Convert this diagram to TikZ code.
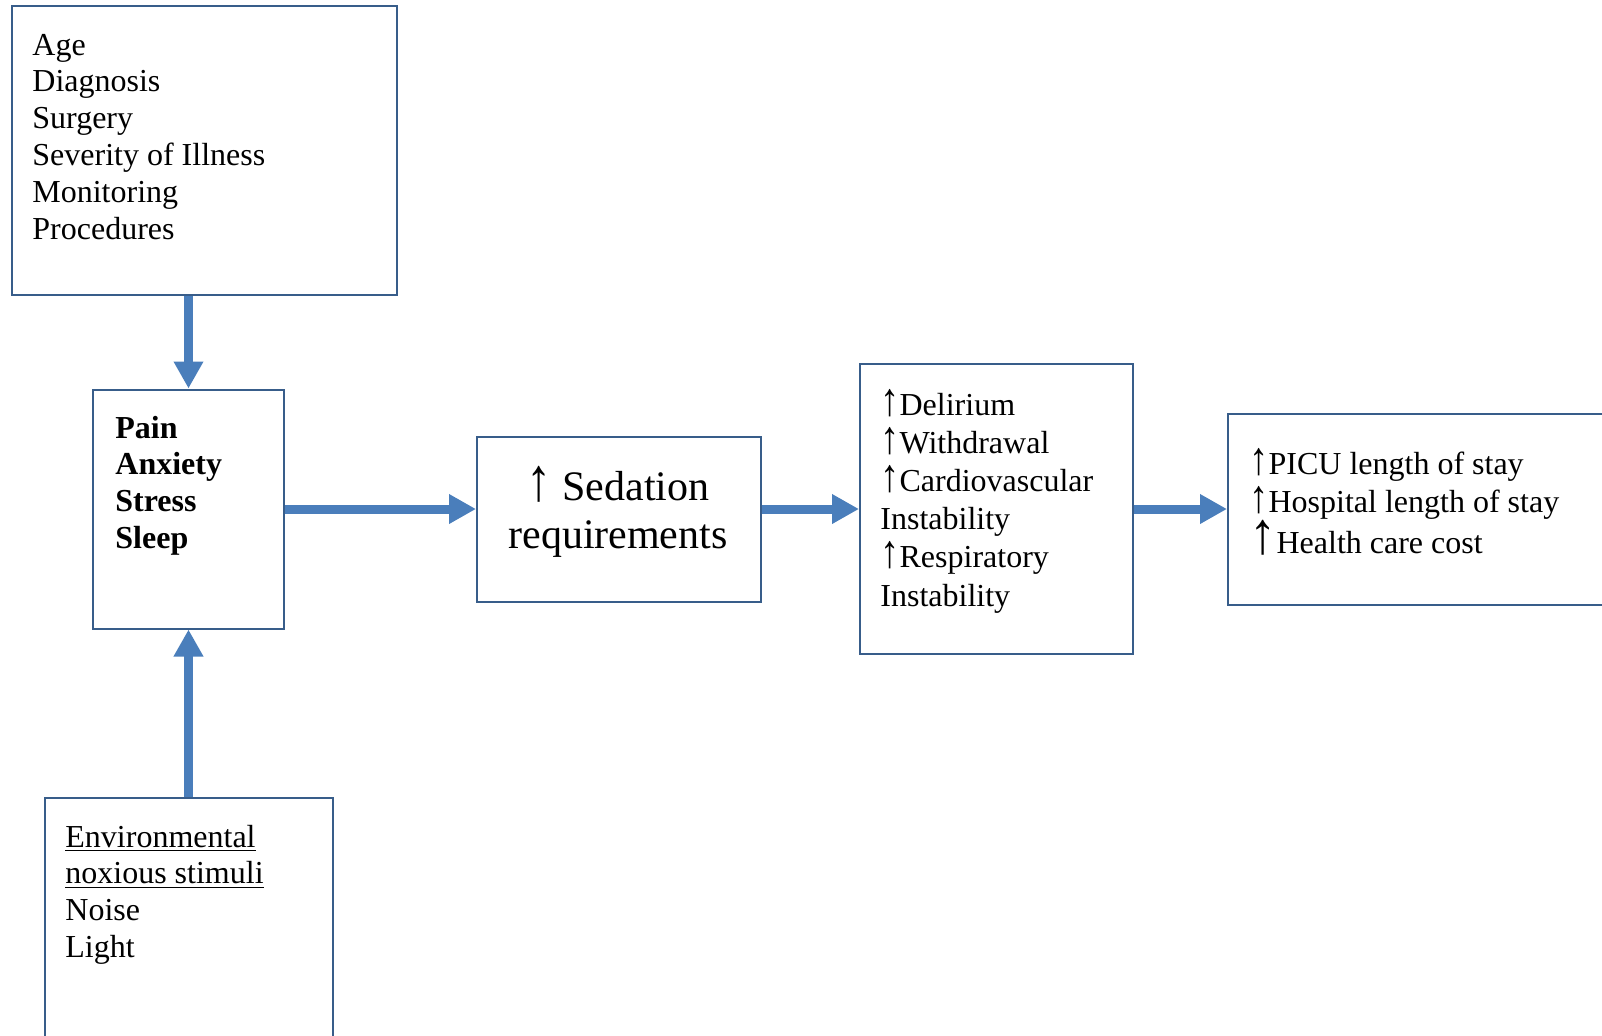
\documentclass[tikz,border=0pt]{standalone}
\usepackage{fontspec}
\usepackage{graphicx}
\setmainfont{Liberation Serif}
\usetikzlibrary{arrows.meta}
\definecolor{boxblue}{RGB}{56,93,138}
\definecolor{arrowblue}{RGB}{74,126,187}
\newcommand{\incr}{\smash{\scalebox{1.2}[1.45]{↑}}}
\newcommand{\bigincr}{\smash{\scalebox{1.7}[1.85]{\bfseries ↑}}}

\begin{document}
\begin{tikzpicture}[x=0.5pt, y=-0.5pt,
  every node/.style={font=\fontsize{16}{18.4}\selectfont},
  panel/.style={draw=boxblue, line width=1pt, rectangle, inner sep=0pt},
  txt/.style={anchor=base west, inner sep=0pt},
  flow/.style={draw=arrowblue, line width=4.5pt, -{Triangle[length=13.5pt,width=14pt]}}]
  \useasboundingbox (0,0) rectangle (1602,1035);

  % Boxes
  \node[panel, minimum width=192.5pt, minimum height=144.5pt] (factors) at (204.5,150.5) {};
  \node[panel, minimum width=95.5pt, minimum height=119.5pt] (pain) at (188.5,509) {};
  \node[panel, minimum width=142pt, minimum height=82.5pt] (sedation) at (619,519.5) {};
  \node[panel, minimum width=136.5pt, minimum height=145pt] (effects) at (996.5,509) {};
  \node[panel, minimum width=211pt, minimum height=95.5pt] (outcome) at (1439,509) {};
  \node[panel, minimum width=144pt, minimum height=141pt] (stimuli) at (189,939) {};

  % Box texts
  \node[txt] (factorstext) at (32,55) {\begin{tabular}[t]{@{}l@{}}
    Age\\ Diagnosis\\ Surgery\\ Severity of Illness\\ Monitoring\\ Procedures
  \end{tabular}};
  \node[txt] (paintext) at (115,438) {\bfseries\begin{tabular}[t]{@{}l@{}}
    Pain\\ Anxiety\\ Stress\\ Sleep
  \end{tabular}};
  \node[anchor=base, inner sep=0pt, font=\fontsize{21}{24}\selectfont] (sedationtext) at (618,500) {\begin{tabular}[t]{@{}c@{}}
    \incr\ Sedation\\ requirements
  \end{tabular}};
  \node[txt, font=\fontsize{16}{19.1}\selectfont] (effectstext) at (880,415) {\begin{tabular}[t]{@{}l@{}}
    \incr Delirium\\ \incr Withdrawal\\ \incr Cardiovascular\\ Instability\\ \incr Respiratory\\ Instability
  \end{tabular}};
  \node[txt, font=\fontsize{16}{19}\selectfont] (outcometext) at (1249,474) {\begin{tabular}[t]{@{}l@{}}
    \incr PICU length of stay\\ \incr Hospital length of stay\\[1.5pt]
    \bigincr Health care cost
  \end{tabular}};
  \node[txt] (stimulitext) at (65,847) {\begin{tabular}[t]{@{}l@{}}
    \underline{Environmental}\\ \underline{noxious stimuli}\\ Noise\\ Light
  \end{tabular}};

  % Arrows
  \draw[flow] (pain.north |- factors.south) -- (pain.north);
  \draw[flow] (pain.south |- stimuli.north) -- (pain.south);
  \draw[flow] (pain.east) -- (pain.east -| sedation.west);
  \draw[flow] (effects.west -| sedation.east) -- (effects.west);
  \draw[flow] (effects.east) -- (effects.east -| outcome.west);
\end{tikzpicture}
\end{document}
